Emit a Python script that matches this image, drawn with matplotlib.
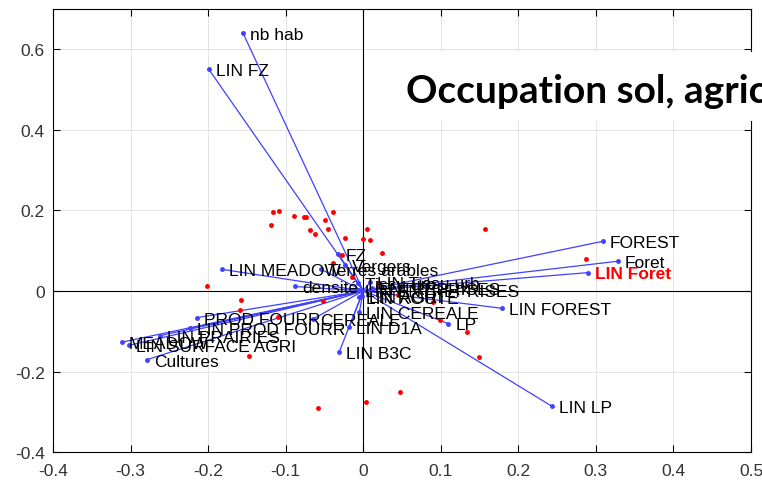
import matplotlib
matplotlib.use('Agg')
import matplotlib.pyplot as plt
from matplotlib.patches import Rectangle
import numpy as np

plt.rcParams['axes.unicode_minus'] = False
plt.rcParams['font.family'] = ['Liberation Sans', 'DejaVu Sans']

# variable loadings (PC1, PC2)
var_names = ['nb hab', 'LIN FZ', 'FZ', 'LIN MEADOW', 'Terres arables', 'Vergers',
             'densité', 'Tissu urb', 'LIN Tissu urb', 'LIN ENTREPRISES', 'ENTREPRISES',
             'LIN ROUTE', 'LIN AGRI', 'LIN CEREALE', 'CEREALE', 'LIN D1A', 'LIN B3C',
             'PROD FOURR', 'LIN PROD FOURR', 'LIN PRAIRIES', 'MEADOW', 'LIN SURFACE AGRI',
             'Cultures', 'LP', 'LIN LP', 'LIN FOREST', 'FOREST', 'Foret', 'LIN Foret']
var_x = [-0.155, -0.199, -0.032, -0.1825, -0.0548, -0.0235,
         -0.088, -0.0067, 0.0088, -0.0067, 0.0113,
         -0.0054, -0.002, -0.005, -0.0645, -0.018, -0.0308,
         -0.2147, -0.223, -0.262, -0.311, -0.302,
         -0.279, 0.1097, 0.243, 0.1786, 0.309, 0.328, 0.29]
var_y = [0.639, 0.549, 0.091, 0.0536, 0.054, 0.0635,
         0.011, 0.0189, 0.0213, 0.0015, 0.0065,
         -0.016, -0.013, -0.053, -0.0695, -0.089, -0.1507,
         -0.0663, -0.093, -0.111, -0.127, -0.135,
         -0.1705, -0.081, -0.2856, -0.043, 0.123, 0.0735, 0.0454]

# observation scores
obs_x = [-0.1167, -0.108, -0.0896, -0.076, -0.074, -0.0385, -0.119, -0.0497,
         -0.0682, -0.062, -0.0452, -0.0237, 0.0044, 0.0001, 0.0087, -0.0278,
         -0.201, 0.0243, 0.1576, -0.0384, -0.158, -0.1589, -0.1095, -0.0514,
         0.0896, 0.099, 0.134, -0.1469, -0.058, 0.1493, 0.0477, 0.0032, 0.287,
         0.02, 0.045, -0.015]
obs_y = [0.1967, 0.198, 0.185, 0.183, 0.183, 0.196, 0.1645, 0.176,
         0.152, 0.142, 0.153, 0.132, 0.1545, 0.128, 0.126, 0.0883,
         0.0122, 0.0933, 0.1545, 0.0685, -0.0233, -0.0474, -0.0648, -0.0251,
         -0.0276, -0.072, -0.102, -0.1615, -0.2896, -0.164, -0.2499, -0.2757, 0.078,
         0.02, -0.01, 0.035]

x_ticks = [-0.4, -0.3, -0.2, -0.1, 0, 0.1, 0.2, 0.3, 0.4, 0.5]
y_ticks = [-0.4, -0.2, 0, 0.2, 0.4, 0.6]

title = 'Occupation sol, agriculture'
highlight = 'LIN Foret'

blue = (0.25, 0.25, 1.0)

fig = plt.figure(figsize=(7.62, 4.81), dpi=100)
ax = fig.add_axes([53 / 762, 1 - 453.3 / 481, 698 / 762, 443.8 / 481])
ax.set_xlim(-0.4, 0.5)
ax.set_ylim(-0.4, 0.7)
ax.set_xticks(x_ticks)
ax.set_yticks(y_ticks)
ax.set_xticklabels(['%g' % t for t in x_ticks])
ax.set_yticklabels(['%g' % t for t in y_ticks])
ax.tick_params(direction='in', top=True, right=True, labelsize=12.5,
               labelcolor='#333333', length=5, width=0.8)
ax.tick_params(axis='x', pad=8)
ax.tick_params(axis='y', pad=6)
ax.grid(True, color='#e3e3e3', lw=0.7)
ax.set_axisbelow(True)
for s in ax.spines.values():
    s.set_linewidth(0.8)
ax.axhline(0, color='black', lw=0.8, zorder=1)
ax.axvline(0, color='black', lw=0.8, zorder=1)

# vectors with labels
for name, x, y in zip(var_names, var_x, var_y):
    ax.plot([0, x], [0, y], color=blue, lw=0.9, zorder=2)
    ax.plot(x, y, '.', color=blue, ms=5, zorder=3)
    if name == highlight:
        ax.annotate(name, (x, y), xytext=(5, -1), textcoords='offset points',
                    va='center', fontsize=12.5, color='red', weight='bold', zorder=4)
    else:
        ax.annotate(name, (x, y), xytext=(5, -1), textcoords='offset points',
                    va='center', fontsize=12.5, color='black', zorder=4)

ax.plot(obs_x, obs_y, '.', color='red', ms=5, zorder=3)

# title banner
fig.patches.append(Rectangle((395 / 762, 1 - 122 / 481), 1, 69 / 481,
                             transform=fig.transFigure, facecolor='white',
                             edgecolor='none', zorder=5))
fig.text(406 / 762, 1 - 103 / 481, title, fontsize=28, weight='bold',
         family=['Lato', 'DejaVu Sans'], va='baseline', zorder=6)

plt.savefig('out.png', dpi=100)
